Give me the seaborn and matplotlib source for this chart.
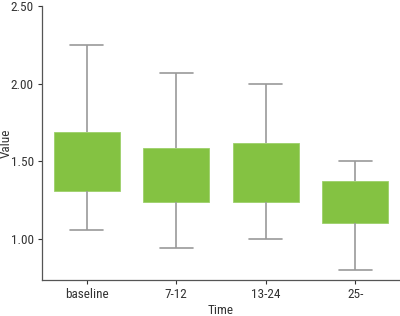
import matplotlib as mpl
import matplotlib.pyplot as plt
from matplotlib import font_manager
import numpy as np
import pandas as pd
import seaborn as sns

# five-number summaries (min, Q1, median, Q3, max)
times = ["baseline", "7-12", "13-24", "25-"]
lows = [1.06, 0.94, 1.00, 0.80]
q1s = [1.31, 1.24, 1.24, 1.10]
medians = [1.50, 1.41, 1.43, 1.24]
q3s = [1.69, 1.585, 1.615, 1.375]
highs = [2.25, 2.07, 2.00, 1.50]

GREEN = "#84C242"
WHISKER = "#9A9A9A"
INK = "#333333"


def pick_font() -> str:
    names = {f.name for f in font_manager.fontManager.ttflist}
    for cand in ["Roboto Condensed", "Liberation Sans Narrow", "DejaVu Sans Condensed", "Roboto"]:
        if cand in names:
            return cand
    return "DejaVu Sans"


def main() -> None:
    sns.set_style("ticks")
    mpl.rcParams["font.family"] = [pick_font(), "DejaVu Sans"]
    mpl.rcParams["font.size"] = 9.5

    rows = []
    for t, a, b, c, d, e in zip(times, lows, q1s, medians, q3s, highs):
        for v in (a, b, c, d, e):
            rows.append({"Time": t, "Value": v})
    df = pd.DataFrame(rows)

    fig = plt.figure(figsize=(4.0, 3.16), dpi=100)
    ax = fig.add_axes([0.105, 0.114, 0.895, 0.867])

    sns.boxplot(
        data=df, x="Time", y="Value", order=times, whis=np.inf, width=0.74,
        color=GREEN, saturation=1, linewidth=1.2, ax=ax,
        boxprops={"facecolor": GREEN, "edgecolor": "#9CD06A", "linewidth": 0.6},
        whiskerprops={"color": WHISKER},
        capprops={"color": WHISKER},
        medianprops={"visible": False},
    )

    ax.set_ylim(0.735, 2.5)
    ax.set_yticks([1.0, 1.5, 2.0, 2.5])
    ax.set_yticklabels([f"{v:.2f}" for v in [1.0, 1.5, 2.0, 2.5]])
    ax.set_xlim(-0.5, 3.5)
    ax.set_xlabel("Time", color=INK, labelpad=2)
    ax.set_ylabel("Value", color=INK, va="center")
    ax.yaxis.set_label_coords(-0.1, 0.5)
    ax.tick_params(colors=INK, length=3, width=0.8, pad=3)
    for s in ("left", "bottom"):
        ax.spines[s].set_color("#555555")
        ax.spines[s].set_linewidth(0.9)
    sns.despine(ax=ax)

    fig.savefig("out.png", dpi=100)


if __name__ == "__main__":
    main()
